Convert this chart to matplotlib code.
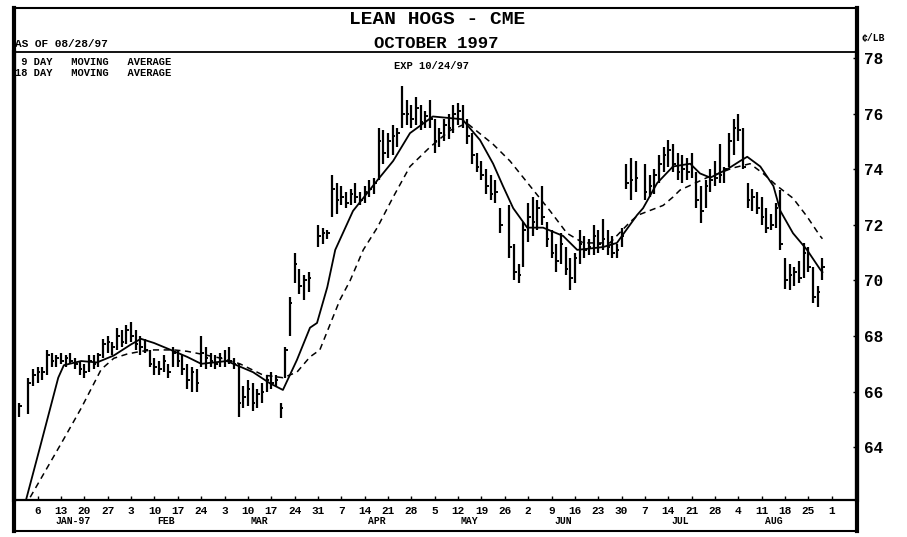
import matplotlib
matplotlib.use("Agg")
import matplotlib.pyplot as plt
import matplotlib.transforms as mtransforms
from matplotlib.lines import Line2D
import numpy as np
import pandas as pd

nan = np.nan

# trading days shown on the chart (Dec 31 1996 .. Aug 28 1997, weekdays)
days = pd.bdate_range("1996-12-31", "1997-08-28")

# daily high / low / close, one row per week (cents per lb)
high = [
    65.6, nan, 66.5, 66.8,
    66.9, 66.9, 67.5, 67.4, 67.3,
    67.4, 67.3, 67.4, 67.2, 67.1,
    67.0, 67.3, 67.3, 67.4, 67.9,
    68.0, 67.8, 68.3, 68.2, 68.4,
    68.5, 68.2, 68.0, 67.9, 67.5,
    67.2, 67.1, 67.3, 67.0, 67.6,
    67.5, 67.3, 67.0, 66.9, 66.8,
    68.0, 67.6, 67.4, 67.3, 67.4,
    67.5, 67.6, 67.2, 67.0, 66.2,
    66.4, 66.3, 66.1, 66.3, 66.6,
    66.7, 66.6, 65.6, 67.6, 69.4,
    71.0, 70.4, 70.2, 70.3, nan,
    72.0, 71.9, 71.8, 73.8, 73.5,
    73.4, 73.2, 73.3, 73.5, 73.2,
    73.4, 73.6, 73.7, 75.5, 75.4,
    75.3, 75.6, 75.5, 77.0, 76.5,
    76.3, 76.6, 76.3, 76.1, 76.5,
    75.8, 75.5, 75.8, 76.0, 76.3,
    76.4, 76.3, 75.8, 75.3, 74.6,
    74.3, 74.0, 73.8, 73.6, 72.6,
    nan, 72.7, 71.3, 70.6, 72.1,
    72.8, 73.0, 72.9, 73.4, 72.1,
    71.8, 71.3, 71.7, 71.2, 70.8,
    71.0, 71.8, 71.6, 71.5, 72.0,
    71.8, 72.2, 71.8, 71.6, 71.3,
    71.9, 74.2, 74.4, 74.3, nan,
    74.2, 73.8, 74.0, 74.5, 74.8,
    75.05, 74.9, 74.6, 74.5, 74.4,
    74.6, 73.9, 73.4, 73.6, 74.0,
    74.3, 74.9, 74.1, 75.3, 75.8,
    76.0, 75.5, 73.5, 73.3, 73.2,
    73.0, 72.6, 72.4, 72.8, 73.25,
    70.8, 70.6, 70.5, 70.7, 71.35,
    71.2, 70.5, 69.8, 70.8,
]
low = [
    65.1, nan, 65.2, 66.2,
    66.3, 66.4, 66.6, 66.9, 66.9,
    67.0, 66.9, 67.0, 66.8, 66.6,
    66.5, 66.7, 66.8, 66.9, 67.2,
    67.4, 67.3, 67.5, 67.6, 67.7,
    67.8, 67.5, 67.3, 67.4, 66.9,
    66.6, 66.6, 66.7, 66.5, 66.9,
    66.9, 66.6, 66.1, 66.0, 66.0,
    66.9, 66.8, 66.9, 66.8, 66.9,
    66.9, 67.0, 66.8, 65.1, 65.4,
    65.5, 65.3, 65.4, 65.6, 66.0,
    66.1, 66.2, 65.05, 66.5, 68.0,
    69.9, 69.5, 69.3, 69.6, nan,
    71.2, 71.3, 71.5, 72.3, 72.4,
    72.7, 72.6, 72.7, 72.8, 72.7,
    72.8, 73.0, 73.1, 73.6, 74.2,
    74.4, 74.5, 74.8, 75.5, 75.6,
    75.5, 75.6, 75.4, 75.5, 75.5,
    74.6, 74.8, 75.0, 75.1, 75.3,
    75.6, 75.5, 74.9, 74.2, 73.9,
    73.6, 73.1, 72.9, 72.8, 71.7,
    nan, 70.8, 70.0, 69.9, 70.5,
    71.4, 71.6, 71.8, 72.0, 71.2,
    70.8, 70.3, 70.6, 70.2, 69.65,
    69.9, 70.6, 70.8, 70.9, 70.9,
    71.0, 71.1, 70.9, 70.8, 70.8,
    71.2, 73.3, 72.9, 73.2, nan,
    72.9, 73.0, 73.1, 73.5, 73.9,
    74.1, 73.9, 73.6, 73.5, 73.6,
    73.7, 72.6, 72.07, 72.6, 73.2,
    73.4, 73.5, 73.5, 74.1, 74.5,
    75.0, 74.0, 72.6, 72.5, 72.4,
    72.0, 71.7, 71.8, 71.9, 71.1,
    69.7, 69.65, 69.8, 69.9, 70.1,
    70.3, 69.2, 69.04, 70.0,
]
close = [
    65.5, nan, 66.3, 66.6,
    66.7, 66.7, 67.3, 67.1, 67.2,
    67.1, 67.2, 67.1, 67.0, 66.8,
    66.7, 67.1, 67.0, 67.3, 67.7,
    67.8, 67.6, 68.0, 67.8, 68.2,
    68.0, 67.7, 67.6, 67.5, 67.0,
    66.9, 66.8, 67.1, 66.7, 67.4,
    67.1, 66.8, 66.4, 66.7, 66.3,
    67.4, 67.2, 67.1, 67.0, 67.2,
    67.1, 67.1, 67.0, 65.6, 65.8,
    66.1, 65.6, 65.9, 66.0, 66.4,
    66.3, 66.4, 65.4, 67.5, 69.2,
    70.6, 69.8, 70.0, 70.1, nan,
    71.6, 71.7, 71.7, 73.3, 72.9,
    73.0, 72.8, 73.1, 73.0, 72.9,
    73.2, 73.3, 73.5, 75.0, 74.6,
    75.0, 75.2, 75.3, 76.0, 76.0,
    75.8, 76.2, 75.7, 75.9, 75.8,
    75.0, 75.3, 75.6, 75.5, 76.0,
    76.1, 75.7, 75.2, 74.5, 74.1,
    73.8, 73.4, 73.1, 73.2, 72.0,
    nan, 71.2, 70.3, 70.2, 71.8,
    72.3, 72.1, 72.6, 72.3, 71.5,
    71.0, 70.7, 71.3, 70.4, 70.1,
    70.8, 71.3, 71.1, 71.2, 71.6,
    71.3, 71.5, 71.2, 71.0, 71.1,
    71.6, 73.5, 73.6, 73.7, nan,
    73.2, 73.4, 73.8, 74.2, 74.5,
    74.7, 74.2, 73.9, 74.0, 73.9,
    74.1, 72.9, 72.5, 73.4, 73.6,
    73.7, 73.8, 74.0, 75.0, 75.5,
    75.4, 74.1, 72.9, 73.0, 72.6,
    72.3, 71.9, 72.0, 72.6, 71.3,
    70.0, 70.2, 70.3, 70.1, 71.0,
    70.5, 69.4, 69.6, 70.5,
]

# moving averages (trading-day position, value)
ma9_day = [1.5, 4.5, 8.4, 9.6, 13.3, 16.7, 20.3, 24.0, 26.1, 28.9, 32.5, 36.0,
           39.0, 44.5, 50.1, 53.7, 56.5, 59.5, 62.3, 63.8, 66.0, 67.7, 71.5,
           76.7, 80.1, 83.7, 88.6, 94.9, 98.7, 101.5, 103.6, 105.8, 108.8,
           112.2, 116.5, 119.5, 125.0, 128.0, 132.3, 133.6, 136.6, 140.0,
           143.7, 145.8, 148.0, 151.6, 154.4, 155.9, 158.7, 161.5, 163.0,
           165.7, 168.7, 171.5, 172.0]
ma9_val = [62.1, 64.0, 66.5, 66.95, 67.1, 67.05, 67.3, 67.7, 67.9, 67.75, 67.5,
           67.25, 67.0, 67.1, 66.7, 66.3, 66.06, 67.14, 68.3, 68.47, 69.76,
           71.1, 72.5, 73.6, 74.3, 75.3, 75.9, 75.8, 75.05, 74.2, 73.4, 72.6,
           71.9, 71.9, 71.6, 71.1, 71.2, 71.35, 72.35, 72.6, 73.5, 74.1, 74.2,
           73.85, 73.7, 74.0, 74.3, 74.45, 74.1, 73.4, 72.5, 71.7, 71.1, 70.4,
           70.3]
ma18_day = [2.4, 9.6, 13.3, 17.6, 20.3, 23.1, 26.1, 28.9, 33.2, 36.0, 39.0,
            43.3, 47.3, 52.2, 56.5, 59.5, 62.3, 64.4, 68.7, 70.9, 73.7, 76.7,
            80.1, 83.7, 88.0, 92.3, 95.9, 101.5, 105.1, 109.4, 113.7, 117.3,
            120.8, 126.5, 130.8, 132.5, 137.9, 140.0, 141.5, 147.3, 152.9,
            156.5, 159.3, 162.3, 165.7, 168.7, 171.5, 172.0]
ma18_val = [62.2, 64.3, 65.4, 66.8, 67.2, 67.35, 67.45, 67.5, 67.5, 67.45,
            67.35, 67.2, 67.0, 66.6, 66.5, 66.7, 67.25, 67.5, 69.3, 70.0, 71.1,
            71.9, 73.0, 74.1, 74.8, 75.4, 75.66, 74.9, 74.3, 73.4, 72.5, 71.7,
            71.35, 71.35, 72.1, 72.35, 72.7, 73.0, 73.25, 73.7, 74.05, 74.2,
            73.85, 73.4, 72.96, 72.3, 71.6, 71.5]

price_ticks = [64, 66, 68, 70, 72, 74, 76, 78]
month_names = ["JAN-97", "FEB", "MAR", "APR", "MAY", "JUN", "JUL", "AUG"]

FONT = "Liberation Mono"
W, H = 907, 537


def fx(px):
    return px / W


def fy(py):
    return 1 - py / H


fig = plt.figure(figsize=(W / 100, H / 100), dpi=100)
fig.patch.set_facecolor("white")
ax = fig.add_axes([fx(14), fy(500), fx(857) - fx(14), fy(52) - fy(500)])

hi = np.array(high)
lo = np.array(low)
cl = np.array(close)
idx = np.arange(len(days))
ok = ~np.isnan(cl)

ax.vlines(idx[ok], lo[ok], hi[ok], color="black", lw=1.6)
ax.hlines(cl[ok], idx[ok], idx[ok] + 0.55, color="black", lw=1.4)

ax.plot(ma9_day, ma9_val, color="black", lw=1.3)
ax.plot(ma18_day, ma18_val, color="black", lw=1.1, dashes=(4, 3))

ax.set_xlim(-1.07, 179.4)
ax.set_ylim(62.1, 78.22)

# weekly ticks on Mondays
tick_days = pd.bdate_range("1996-12-31", "1997-09-01")
mon = [i for i, d in enumerate(tick_days) if d.weekday() == 0 and i > 0]
ax.set_xticks(mon)
ax.set_xticklabels([str(tick_days[i].day) for i in mon], fontsize=8,
                   fontweight="bold", family=FONT)
ax.tick_params(axis="x", direction="in", length=3, width=1, pad=4)

ax.yaxis.tick_right()
ax.set_yticks(price_ticks)
ax.set_yticklabels([str(p) for p in price_ticks], fontsize=11.5,
                   fontweight="bold", family=FONT)
ax.tick_params(axis="y", direction="in", length=3, width=1, pad=5)

for side, lw in [("left", 3), ("right", 3), ("bottom", 1.6), ("top", 1.3)]:
    ax.spines[side].set_linewidth(lw)

# month names under the weekly labels
trans = mtransforms.blended_transform_factory(ax.transData, ax.transAxes)
for k, name in enumerate(month_names):
    m = k + 1
    mondays = [i for i in mon if tick_days[i].month == m and tick_days[i].year == 1997]
    pos = (mondays[1] + mondays[2]) / 2
    ax.text(pos, -0.047, name, transform=trans, ha="center", va="center",
            fontsize=7, fontweight="bold", family=FONT)

# outer frame and title band
for (x0, y0, x1, y1, lw) in [(14, 8, 857, 8, 1.5), (14, 531, 857, 531, 1.5),
                             (14, 8, 14, 531, 3), (857, 8, 857, 531, 3)]:
    fig.add_artist(Line2D([fx(x0), fx(x1)], [fy(y0), fy(y1)], color="black",
                          lw=lw, transform=fig.transFigure))

fig.text(fx(437), fy(19), "LEAN HOGS - CME", ha="center", va="center",
         fontsize=14, fontweight="bold", family=FONT)
fig.text(fx(436), fy(43), "OCTOBER 1997", ha="center", va="center",
         fontsize=12.5, fontweight="bold", family=FONT)
fig.text(fx(15), fy(44), "AS OF 08/28/97", ha="left", va="center",
         fontsize=8, fontweight="bold", family=FONT)
fig.text(fx(862), fy(38), "\u00a2/LB", ha="left", va="center",
         fontsize=7, fontweight="bold", family=FONT)
fig.text(fx(15), fy(62), " 9 DAY   MOVING   AVERAGE", ha="left", va="center",
         fontsize=7.5, fontweight="bold", family=FONT)
fig.text(fx(15), fy(73), "18 DAY   MOVING   AVERAGE", ha="left", va="center",
         fontsize=7.5, fontweight="bold", family=FONT)
fig.text(fx(432), fy(66), "EXP 10/24/97", ha="center", va="center",
         fontsize=7.5, fontweight="bold", family=FONT)

fig.savefig("out.png", dpi=100)
